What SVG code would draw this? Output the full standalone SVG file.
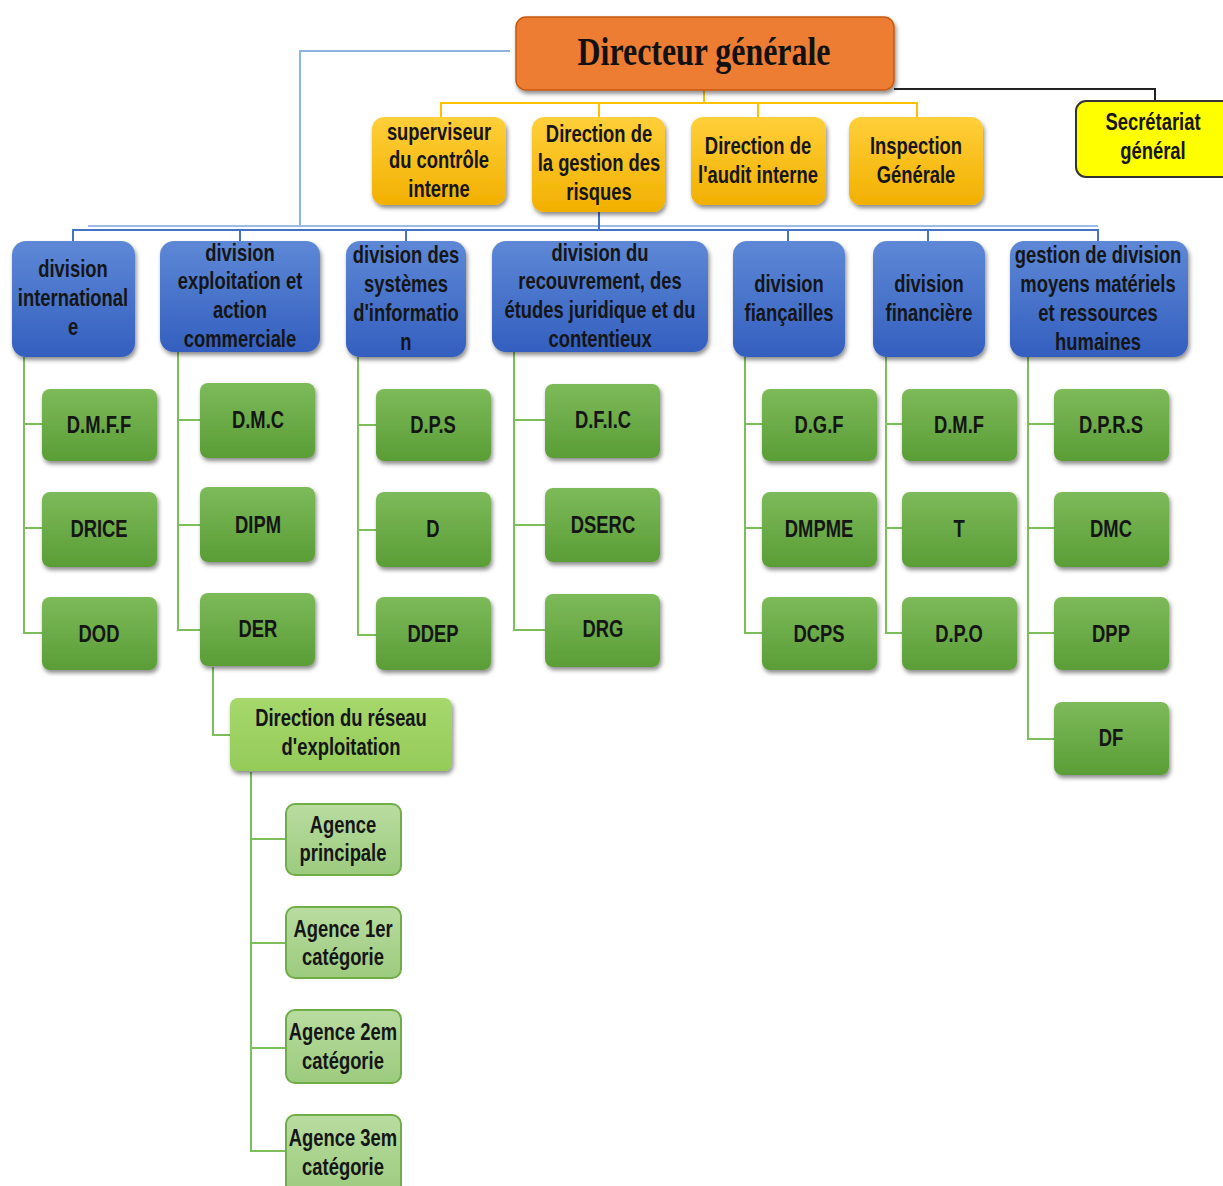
<svg xmlns="http://www.w3.org/2000/svg" width="1223" height="1186" viewBox="0 0 1223 1186">
<defs>
<linearGradient id="gGreen" x1="0" y1="0" x2="0" y2="1"><stop offset="0" stop-color="#7DBA5A"/><stop offset="1" stop-color="#5A9D36"/></linearGradient>
<linearGradient id="gBlue" x1="0" y1="0" x2="0" y2="1"><stop offset="0" stop-color="#5E88D6"/><stop offset="1" stop-color="#335FBF"/></linearGradient>
<linearGradient id="gOrange" x1="0" y1="0" x2="0" y2="1"><stop offset="0" stop-color="#FFCF3A"/><stop offset="1" stop-color="#F2B000"/></linearGradient>
<linearGradient id="gLight" x1="0" y1="0" x2="0" y2="1"><stop offset="0" stop-color="#A6D86C"/><stop offset="1" stop-color="#94CB58"/></linearGradient>
<linearGradient id="gAg" x1="0" y1="0" x2="0" y2="1"><stop offset="0" stop-color="#B9DCA0"/><stop offset="1" stop-color="#9CCB7E"/></linearGradient>
<filter id="sh" x="-10%" y="-10%" width="130%" height="140%"><feDropShadow dx="1.5" dy="3" stdDeviation="2" flood-color="#000" flood-opacity="0.45"/></filter>
<style>
.t{font-family:"Liberation Sans",Arial,sans-serif;font-weight:bold;font-size:23px;fill:#151515;text-anchor:middle;transform-box:fill-box;transform-origin:center;transform:scaleX(0.8)}
.g{fill:url(#gGreen);filter:url(#sh)}
.b{fill:url(#gBlue);filter:url(#sh)}
.o{fill:url(#gOrange);filter:url(#sh)}
.l{fill:url(#gLight);filter:url(#sh)}
.a{fill:url(#gAg);stroke:#70AD47;stroke-width:2}
.cg{fill:none;stroke:#7CBF5A;stroke-width:2}
.cb{fill:none;stroke:#4472C4;stroke-width:2}
.cy{fill:none;stroke:#FFC000;stroke-width:2}
</style>
</defs>
<rect width="1223" height="1186" fill="#fff"/>
<g id="connectors">
<path d="M510,51 H300 V227" fill="none" stroke="#8DB4E2" stroke-width="2"/>
<path d="M88,226 H1098" fill="none" stroke="#9DBBE8" stroke-width="2"/>
<path class="cb" d="M599,212 V230 M73,241 V230 H1098 V241 M240,230 V241 M406,230 V241 M788,230 V241 M928,230 V241"/>
<path d="M894,89 H1155 V101" fill="none" stroke="#222" stroke-width="2"/>
<path class="cy" d="M704,90 V103 M441,117 V103 H917 V117 M599,103 V117 M758,103 V117"/>
<path class="cg" d="M24,357 V633 H42 M24,424 H42 M24,528 H42"/>
<path class="cg" d="M178,352 V630 H200 M178,420 H200 M178,525 H200"/>
<path class="cg" d="M358,357 V635 H376 M358,425 H376 M358,530 H376"/>
<path class="cg" d="M514,352 V630 H545 M514,420 H545 M514,525 H545"/>
<path class="cg" d="M745,357 V633 H762 M745,424 H762 M745,528 H762"/>
<path class="cg" d="M886,357 V633 H902 M886,424 H902 M886,528 H902"/>
<path class="cg" d="M1028,357 V739 H1054 M1028,424 H1054 M1028,528 H1054 M1028,633 H1054"/>
<path class="cg" d="M213,667 V735 H230"/>
<path class="cg" d="M251,772 V1151 H286 M251,839 H286 M251,943 H286 M251,1048 H286"/>
</g>
<g id="dg"><rect x="516" y="17" width="378" height="73" rx="10" fill="#ED7D31" stroke="#C55A11" stroke-width="1.5" filter="url(#sh)"/><text x="704" y="65" font-family="'Liberation Serif',serif" font-weight="bold" font-size="40" fill="#111" text-anchor="middle" textLength="253" lengthAdjust="spacingAndGlyphs">Directeur générale</text></g>
<g id="sg"><rect x="1076" y="101" width="160" height="76" rx="10" fill="#FFFF00" stroke="#333" stroke-width="2"/><text class="t" x="1153" y="130">Secrétariat</text><text class="t" x="1153" y="159">général</text></g>
<g id="o1"><rect class="o" x="372" y="117" width="134" height="88" rx="12"/><text class="t" x="439" y="140">superviseur</text><text class="t" x="439" y="168">du contrôle</text><text class="t" x="439" y="197">interne</text></g>
<g id="o2"><rect class="o" x="532" y="117" width="133" height="95" rx="12"/><text class="t" x="599" y="142">Direction de</text><text class="t" x="599" y="171">la gestion des</text><text class="t" x="599" y="200">risques</text></g>
<g id="o3"><rect class="o" x="691" y="117" width="135" height="88" rx="12"/><text class="t" x="758" y="154">Direction de</text><text class="t" x="758" y="183">l'audit interne</text></g>
<g id="o4"><rect class="o" x="849" y="117" width="134" height="88" rx="12"/><text class="t" x="916" y="154">Inspection</text><text class="t" x="916" y="183">Générale</text></g>
<g id="b1"><rect class="b" x="12" y="241" width="123" height="116" rx="14"/><text class="t" x="73" y="277">division</text><text class="t" x="73" y="306">international</text><text class="t" x="73" y="335">e</text></g>
<g id="b2"><rect class="b" x="160" y="241" width="160" height="111" rx="14"/><text class="t" x="240" y="261">division</text><text class="t" x="240" y="289">exploitation et</text><text class="t" x="240" y="318">action</text><text class="t" x="240" y="347">commerciale</text></g>
<g id="b3"><rect class="b" x="346" y="241" width="120" height="116" rx="14"/><text class="t" x="406" y="263">division des</text><text class="t" x="406" y="292">systèmes</text><text class="t" x="406" y="321">d'informatio</text><text class="t" x="406" y="350">n</text></g>
<g id="b4"><rect class="b" x="492" y="241" width="216" height="111" rx="14"/><text class="t" x="600" y="261">division du</text><text class="t" x="600" y="289">recouvrement, des</text><text class="t" x="600" y="318">études juridique et du</text><text class="t" x="600" y="347">contentieux</text></g>
<g id="b5"><rect class="b" x="733" y="241" width="112" height="116" rx="14"/><text class="t" x="789" y="292">division</text><text class="t" x="789" y="321">fiançailles</text></g>
<g id="b6"><rect class="b" x="873" y="241" width="112" height="116" rx="14"/><text class="t" x="929" y="292">division</text><text class="t" x="929" y="321">financière</text></g>
<g id="b7"><rect class="b" x="1010" y="241" width="178" height="116" rx="14"/><text class="t" x="1098" y="263">gestion de division</text><text class="t" x="1098" y="292">moyens matériels</text><text class="t" x="1098" y="321">et ressources</text><text class="t" x="1098" y="350">humaines</text></g>
<g id="n_dmff"><rect class="g" x="42" y="389" width="115" height="72" rx="8"/><text class="t" x="99" y="433">D.M.F.F</text></g>
<g id="n_drice"><rect class="g" x="42" y="492" width="115" height="75" rx="8"/><text class="t" x="99" y="537">DRICE</text></g>
<g id="n_dod"><rect class="g" x="42" y="597" width="115" height="73" rx="8"/><text class="t" x="99" y="642">DOD</text></g>
<g id="n_dmc"><rect class="g" x="200" y="383" width="115" height="75" rx="8"/><text class="t" x="258" y="428">D.M.C</text></g>
<g id="n_dipm"><rect class="g" x="200" y="487" width="115" height="75" rx="8"/><text class="t" x="258" y="533">DIPM</text></g>
<g id="n_der"><rect class="g" x="200" y="593" width="115" height="73" rx="8"/><text class="t" x="258" y="637">DER</text></g>
<g id="n_dps"><rect class="g" x="376" y="389" width="115" height="72" rx="8"/><text class="t" x="433" y="433">D.P.S</text></g>
<g id="n_d"><rect class="g" x="376" y="492" width="115" height="75" rx="8"/><text class="t" x="433" y="537">D</text></g>
<g id="n_ddep"><rect class="g" x="376" y="597" width="115" height="73" rx="8"/><text class="t" x="433" y="642">DDEP</text></g>
<g id="n_dfic"><rect class="g" x="545" y="384" width="115" height="74" rx="8"/><text class="t" x="603" y="428">D.F.I.C</text></g>
<g id="n_dserc"><rect class="g" x="545" y="488" width="115" height="74" rx="8"/><text class="t" x="603" y="533">DSERC</text></g>
<g id="n_drg"><rect class="g" x="545" y="594" width="115" height="73" rx="8"/><text class="t" x="603" y="637">DRG</text></g>
<g id="n_dgf"><rect class="g" x="762" y="389" width="115" height="72" rx="8"/><text class="t" x="819" y="433">D.G.F</text></g>
<g id="n_dmpme"><rect class="g" x="762" y="492" width="115" height="75" rx="8"/><text class="t" x="819" y="537">DMPME</text></g>
<g id="n_dcps"><rect class="g" x="762" y="597" width="115" height="73" rx="8"/><text class="t" x="819" y="642">DCPS</text></g>
<g id="n_dmf"><rect class="g" x="902" y="389" width="115" height="72" rx="8"/><text class="t" x="959" y="433">D.M.F</text></g>
<g id="n_t"><rect class="g" x="902" y="492" width="115" height="75" rx="8"/><text class="t" x="959" y="537">T</text></g>
<g id="n_dpo"><rect class="g" x="902" y="597" width="115" height="73" rx="8"/><text class="t" x="959" y="642">D.P.O</text></g>
<g id="n_dprs"><rect class="g" x="1054" y="389" width="115" height="72" rx="8"/><text class="t" x="1111" y="433">D.P.R.S</text></g>
<g id="n_dmc2"><rect class="g" x="1054" y="492" width="115" height="75" rx="8"/><text class="t" x="1111" y="537">DMC</text></g>
<g id="n_dpp"><rect class="g" x="1054" y="597" width="115" height="73" rx="8"/><text class="t" x="1111" y="642">DPP</text></g>
<g id="n_df"><rect class="g" x="1054" y="702" width="115" height="73" rx="8"/><text class="t" x="1111" y="746">DF</text></g>
<g id="n_dre"><rect class="l" x="230" y="698" width="222" height="73" rx="8"/><text class="t" x="341" y="726">Direction du réseau</text><text class="t" x="341" y="755">d'exploitation</text></g>
<g id="a1"><rect class="a" x="286" y="804" width="115" height="71" rx="9"/><text class="t" x="343" y="833">Agence</text><text class="t" x="343" y="861">principale</text></g>
<g id="a2"><rect class="a" x="286" y="907" width="115" height="71" rx="9"/><text class="t" x="343" y="937">Agence 1er</text><text class="t" x="343" y="965">catégorie</text></g>
<g id="a3"><rect class="a" x="286" y="1010" width="115" height="73" rx="9"/><text class="t" x="343" y="1040">Agence 2em</text><text class="t" x="343" y="1069">catégorie</text></g>
<g id="a4"><rect class="a" x="286" y="1115" width="115" height="80" rx="9"/><text class="t" x="343" y="1146">Agence 3em</text><text class="t" x="343" y="1175">catégorie</text></g>
</svg>
